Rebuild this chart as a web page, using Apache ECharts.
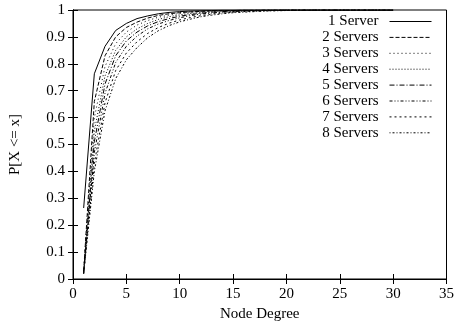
<!DOCTYPE html>
<html>
<head>
<meta charset="utf-8">
<script src="https://cdn.jsdelivr.net/npm/echarts@6/dist/echarts.min.js"></script>
<style>
html,body{margin:0;padding:0;background:#fff;}
#chart{width:457px;height:333px;}
</style>
</head>
<body>
<div id="chart"></div>
<script>
var degrees = [1,2,3,4,5,6,7,8,9,10,11,12,13,14,15,16,17,18,19,20,21,22,23,24,25,26,27,28,29,30];
var seriesNames = ['1 Server','2 Servers','3 Servers','4 Servers','5 Servers','6 Servers','7 Servers','8 Servers'];
var s1 = [0.264,0.763,0.865,0.924,0.950,0.968,0.978,0.986,0.991,0.994,0.996,0.997,0.998,0.999,0.999,1,1,1,1,1,1,1,1,1,1,1,1,1,1,1];
var s2 = [0.030,0.660,0.830,0.900,0.935,0.955,0.970,0.980,0.986,0.990,0.993,0.995,0.997,0.998,0.998,0.999,0.999,1,1,1,1,1,1,1,1,1,1,1,1,1];
var s3 = [0.030,0.600,0.790,0.875,0.918,0.944,0.961,0.973,0.981,0.987,0.991,0.994,0.996,0.997,0.998,0.999,0.999,1,1,1,1,1,1,1,1,1,1,1,1,1];
var s4 = [0.025,0.550,0.755,0.850,0.900,0.930,0.950,0.965,0.975,0.982,0.987,0.991,0.994,0.996,0.997,0.998,0.999,0.999,1,1,1,1,1,1,1,1,1,1,1,1];
var s5 = [0.025,0.510,0.725,0.830,0.885,0.918,0.941,0.957,0.968,0.977,0.983,0.988,0.992,0.994,0.996,0.997,0.998,0.999,0.999,1,1,1,1,1,1,1,1,1,1,1];
var s6 = [0.020,0.470,0.690,0.805,0.865,0.903,0.930,0.948,0.961,0.971,0.979,0.985,0.989,0.992,0.994,0.996,0.997,0.998,0.999,0.999,1,1,1,1,1,1,1,1,1,1];
var s7 = [0.020,0.430,0.655,0.775,0.840,0.882,0.913,0.935,0.951,0.963,0.972,0.979,0.985,0.989,0.992,0.994,0.996,0.997,0.998,0.999,0.999,1,1,1,1,1,1,1,1,1];
var s8 = [0.020,0.400,0.625,0.745,0.815,0.860,0.897,0.923,0.942,0.956,0.966,0.975,0.981,0.986,0.990,0.992,0.994,0.996,0.997,0.998,0.999,0.999,1,1,1,1,1,1,1,1];
var allValues = [s1,s2,s3,s4,s5,s6,s7,s8];
var xTicks = [0,5,10,15,20,25,30,35];
var yTicks = [0,0.1,0.2,0.3,0.4,0.5,0.6,0.7,0.8,0.9,1];

var dashes = ['solid',[4,2],[1,3],[1,2],[5,2,1,2],[3,2,1,2,1,2],[2,3],[1,2,2,2]];
var font = 'Liberation Serif';

var series = allValues.map(function(vals, i){
  return {
    name: seriesNames[i],
    type: 'line',
    showSymbol: false,
    symbol: 'none',
    animation: false,
    data: vals.map(function(v, j){ return [degrees[j], v]; }),
    lineStyle: {color: '#000', width: 1, type: dashes[i]},
    itemStyle: {color: '#000'}
  };
});

var chart = echarts.init(document.getElementById('chart'), null, {renderer: 'canvas'});
var axisCommon = {
  axisLine: {show: true, lineStyle: {color: '#000', width: 1}},
  axisTick: {show: true, inside: true, length: 5, lineStyle: {color: '#000'}},
  splitLine: {show: false}
};
chart.setOption({
  animation: false,
  backgroundColor: '#fff',
  grid: {left: 70, right: 7, top: 10, bottom: 54, show: true, borderColor: '#000', borderWidth: 1, backgroundColor: 'transparent'},
  legend: {
    orient: 'vertical',
    right: 20,
    top: 9,
    align: 'right',
    itemWidth: 42,
    itemHeight: 13,
    itemGap: 0.9,
    itemStyle: {color: 'rgba(0,0,0,0)', borderColor: 'rgba(0,0,0,0)', borderWidth: 0, opacity: 0},
    lineStyle: {width: 1},
    data: seriesNames,
    formatter: function(n){ return '{a|' + n + '}'; },
    textStyle: {
      fontFamily: font, fontSize: 15, color: '#000', lineHeight: 15,
      rich: {a: {fontFamily: font, fontSize: 15, lineHeight: 15, color: '#000', width: 66, align: 'right', padding: [0,6,0,0]}}
    }
  },
  xAxis: [
    Object.assign({}, axisCommon, {
      type: 'value', min: 0, max: 35, interval: 5, position: 'bottom',
      name: 'Node Degree', nameLocation: 'middle', nameGap: 27,
      nameTextStyle: {fontFamily: font, fontSize: 15, color: '#000'},
      axisLabel: {fontFamily: font, fontSize: 15, color: '#000', margin: 8,
        formatter: function(v){ return xTicks.indexOf(v) >= 0 ? String(v) : ''; }}
    }),
    Object.assign({}, axisCommon, {
      type: 'value', min: 0, max: 35, interval: 5, position: 'top',
      axisLabel: {show: false}
    })
  ],
  yAxis: [
    Object.assign({}, axisCommon, {
      type: 'value', min: 0, max: 1, interval: 0.1, position: 'left',
      name: 'P[X <= x]', nameLocation: 'middle', nameGap: 50, nameRotate: 90,
      nameTextStyle: {fontFamily: font, fontSize: 15, color: '#000'},
      axisLabel: {fontFamily: font, fontSize: 15, color: '#000', margin: 8,
        formatter: function(v){
          var r = Math.round(v*10)/10;
          return yTicks.indexOf(r) >= 0 ? String(r) : '';
        }}
    }),
    Object.assign({}, axisCommon, {
      type: 'value', min: 0, max: 1, interval: 0.1, position: 'right',
      axisLabel: {show: false}
    })
  ],
  series: series
});
</script>
</body>
</html>
